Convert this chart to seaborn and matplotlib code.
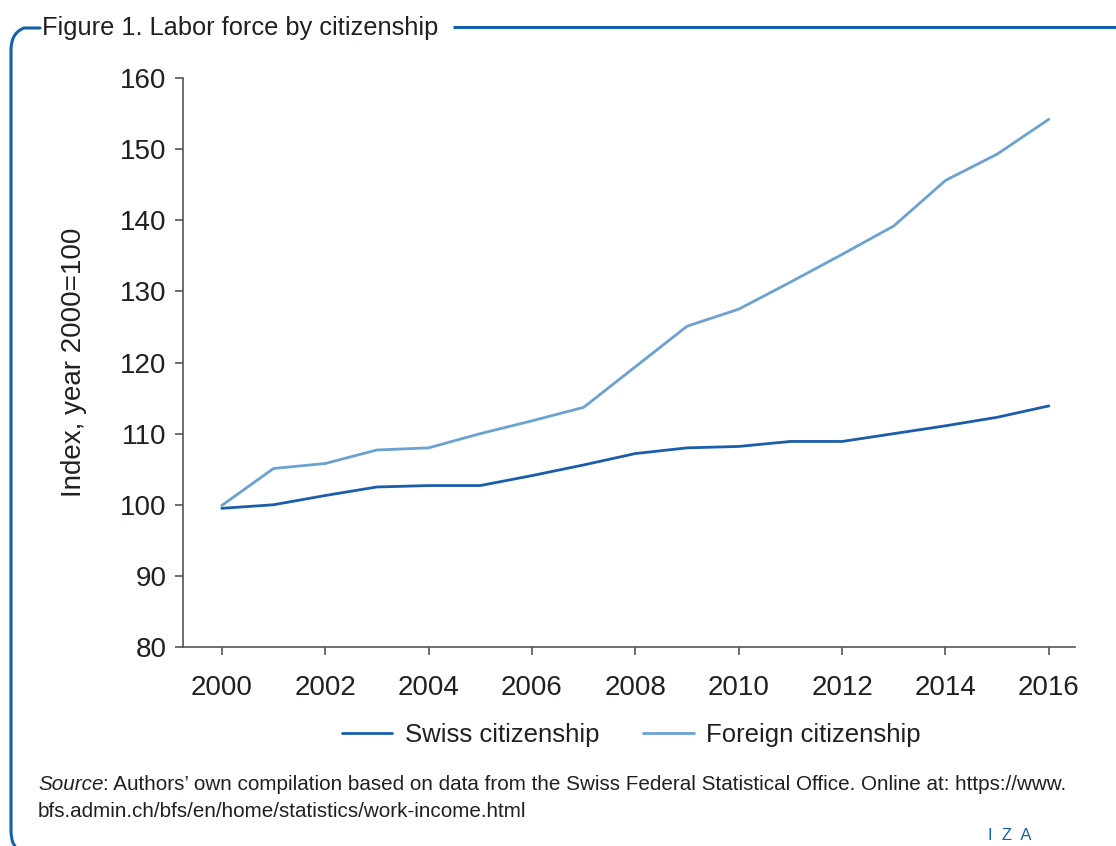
import numpy as np
import pandas as pd
import matplotlib
matplotlib.use("Agg")
import matplotlib.pyplot as plt
from matplotlib.path import Path
from matplotlib.patches import PathPatch
import seaborn as sns

# data (index, year 2000 = 100)
years = list(range(2000, 2017))
swiss = [99.5, 100.0, 101.3, 102.5, 102.7, 102.7, 104.1, 105.6, 107.2, 108.0,
         108.2, 108.9, 108.9, 110.0, 111.1, 112.3, 113.9]
foreign = [99.9, 105.1, 105.8, 107.7, 108.0, 110.0, 111.8, 113.7, 119.4, 125.1,
           127.5, 131.3, 135.2, 139.2, 145.6, 149.3, 154.2]
series_names = ["Swiss citizenship", "Foreign citizenship"]
series_colors = ["#1a5ea9", "#69a2d3"]
x_ticks = list(range(2000, 2017, 2))
y_ticks = list(range(80, 161, 10))

sns.set_style("white")
plt.rcParams['font.family'] = ['Liberation Sans', 'DejaVu Sans']
text_col = "#231f20"
frame_col = "#1560ac"

df = pd.DataFrame({
    "year": years * 2,
    "value": swiss + foreign,
    "series": [series_names[0]] * len(years) + [series_names[1]] * len(years),
})

fig = plt.figure(figsize=(11.16, 8.46), dpi=100)
ax = fig.add_axes([0.164, 0.2352, 0.799, 0.6726])

sns.lineplot(data=df, x="year", y="value", hue="series", palette=series_colors,
             linewidth=2.0, legend=False, ax=ax)

ax.set_xlim(1999.25, 2016.5)
ax.set_ylim(80, 160)
ax.set_xticks(x_ticks)
ax.set_yticks(y_ticks)
ax.tick_params(axis="both", labelsize=20, colors="#555555", labelcolor=text_col,
               length=6, width=1.2, direction="out", bottom=True, left=True)
ax.tick_params(axis="x", pad=14)
ax.tick_params(axis="y", pad=6)
for s in ["top", "right"]:
    ax.spines[s].set_visible(False)
for s in ["left", "bottom"]:
    ax.spines[s].set_color("#555555")
    ax.spines[s].set_linewidth(1.2)
ax.set_xlabel("")
ax.set_ylabel("Index, year 2000=100", fontsize=20, color=text_col, labelpad=24)

handles = ax.get_lines()[:2]
fig.legend(handles, series_names, loc="center", bbox_to_anchor=(0.566, 0.1312),
           ncol=2, frameon=False, fontsize=18.5, handlelength=1.95,
           columnspacing=1.7, handletextpad=0.5, labelcolor=text_col)

# title inside the frame break
fig.text(0.038, 0.967, "Figure 1. Labor force by citizenship", fontsize=18.3,
         color=text_col, va="center", ha="left")

# source note: italic "Source" then the rest
y1, y2 = 1 - 790 / 846, 1 - 817 / 846
src = fig.text(0.034, y1, "Source", fontsize=14.9, style="italic",
               color=text_col, va="baseline", ha="left")
fig.canvas.draw()
bb = src.get_window_extent()
x_after = bb.x1 / fig.bbox.width
fig.text(x_after, y1,
         ": Authors\u2019 own compilation based on data from the Swiss Federal "
         "Statistical Office. Online at: https://www.",
         fontsize=14.9, color=text_col, va="baseline", ha="left")
fig.text(0.034, y2, "bfs.admin.ch/bfs/en/home/statistics/work-income.html",
         fontsize=14.9, color=text_col, va="baseline", ha="left")

# IZA mark
fig.text(0.9045, 0.004, "I  Z  A", fontsize=12, color=frame_col,
         ha="center", va="bottom")

# rounded blue frame (figure pixel coords)
W, H = 1116.0, 846.0
def fp(x, y):
    return (x / W, 1 - y / H)

left_path = Path(
    [fp(40, 28), fp(24, 28), fp(11, 33), fp(11, 50), fp(11, 830),
     fp(11, 838), fp(13, 843), fp(16, 848)],
    [Path.MOVETO, Path.LINETO, Path.CURVE3, Path.CURVE3, Path.LINETO,
     Path.CURVE3, Path.CURVE3, Path.LINETO])
fig.add_artist(PathPatch(left_path, transform=fig.transFigure, fill=False,
                         edgecolor=frame_col, linewidth=2.2, capstyle="round"))
top_path = Path([fp(453, 27), fp(1120, 27)], [Path.MOVETO, Path.LINETO])
fig.add_artist(PathPatch(top_path, transform=fig.transFigure, fill=False,
                         edgecolor=frame_col, linewidth=2.2))

fig.savefig("out.png", dpi=100)
